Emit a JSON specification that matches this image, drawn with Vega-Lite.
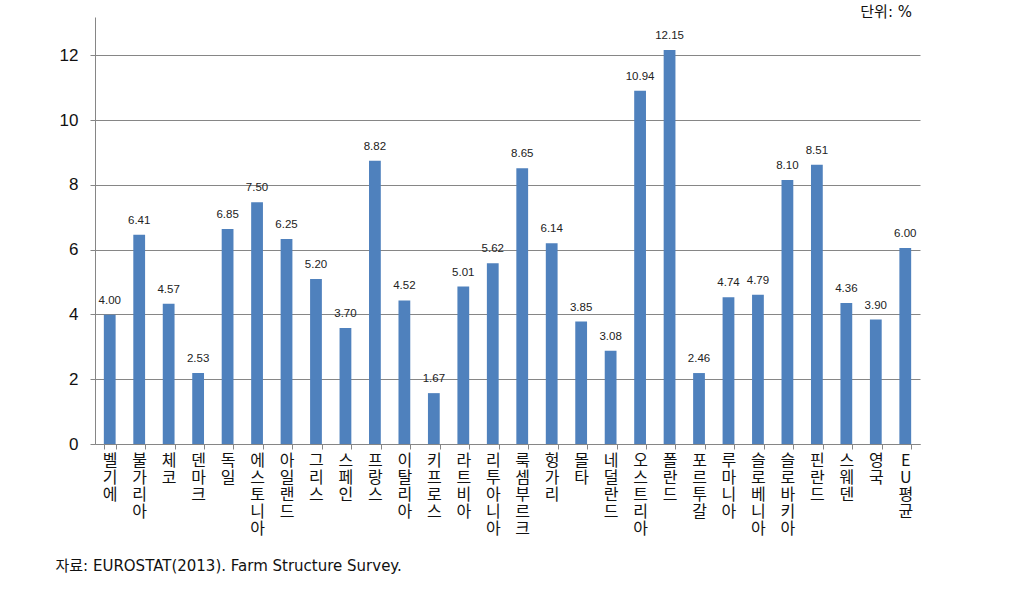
{
  "$schema": "https://vega.github.io/schema/vega-lite/v6.json",
  "width": 825,
  "height": 427,
  "autosize": {"type": "none"},
  "padding": {"left": 95, "top": 17, "right": 90, "bottom": 152},
  "background": "white",
  "title": {"text": "단위: %", "orient": "top", "anchor": "end", "frame": "group", "font": "DejaVu Sans, Noto Sans CJK KR", "fontSize": 15, "fontWeight": "normal", "color": "#111", "baseline": "middle", "offset": 0, "dy": 10, "dx": -8},
  "data": {"values": [
    {"country": "벨기에", "value": 3.99, "label": "4.00"},
    {"country": "불가리아", "value": 6.46, "label": "6.41"},
    {"country": "체코", "value": 4.33, "label": "4.57"},
    {"country": "덴마크", "value": 2.19, "label": "2.53"},
    {"country": "독일", "value": 6.64, "label": "6.85"},
    {"country": "에스토니아", "value": 7.46, "label": "7.50"},
    {"country": "아일랜드", "value": 6.33, "label": "6.25"},
    {"country": "그리스", "value": 5.09, "label": "5.20"},
    {"country": "스페인", "value": 3.58, "label": "3.70"},
    {"country": "프랑스", "value": 8.74, "label": "8.82"},
    {"country": "이탈리아", "value": 4.43, "label": "4.52"},
    {"country": "키프로스", "value": 1.57, "label": "1.67"},
    {"country": "라트비아", "value": 4.86, "label": "5.01"},
    {"country": "리투아니아", "value": 5.58, "label": "5.62"},
    {"country": "룩셈부르크", "value": 8.51, "label": "8.65"},
    {"country": "헝가리", "value": 6.2, "label": "6.14"},
    {"country": "몰타", "value": 3.78, "label": "3.85"},
    {"country": "네덜란드", "value": 2.88, "label": "3.08"},
    {"country": "오스트리아", "value": 10.9, "label": "10.94"},
    {"country": "폴란드", "value": 12.16, "label": "12.15"},
    {"country": "포르투갈", "value": 2.19, "label": "2.46"},
    {"country": "루마니아", "value": 4.53, "label": "4.74"},
    {"country": "슬로베니아", "value": 4.61, "label": "4.79"},
    {"country": "슬로바키아", "value": 8.15, "label": "8.10"},
    {"country": "핀란드", "value": 8.62, "label": "8.51"},
    {"country": "스웨덴", "value": 4.35, "label": "4.36"},
    {"country": "영국", "value": 3.84, "label": "3.90"},
    {"country": "EU평균", "value": 6.05, "label": "6.00"}
  ]},
  "encoding": {
    "x": {"field": "country", "type": "nominal", "sort": null,
      "scale": {"paddingInner": 0.6, "paddingOuter": 0.3},
      "axis": {"labelAngle": 0, "labelExpr": "split(datum.label, '')", "labelFont": "Noto Sans CJK KR", "labelFontSize": 16, "labelLineHeight": 17, "labelColor": "#111", "labelBaseline": "top", "labelPadding": 3, "labelLimit": 0, "labelOverlap": false,
        "tickBand": "extent", "ticks": true, "tickSize": 5, "tickColor": "#868686", "domainColor": "#868686",
        "title": "자료: EUROSTAT(2013). Farm Structure Survey.", "titleFont": "DejaVu Sans, Noto Sans CJK KR", "titleFontSize": 15, "titleFontWeight": "normal", "titleColor": "#111", "titleAnchor": "start", "titleAlign": "left", "titleBaseline": "middle", "titleX": -40, "titleY": 121}},
    "y": {"field": "value", "type": "quantitative",
      "scale": {"domain": [0, 13.18], "nice": false},
      "axis": {"values": [0, 2, 4, 6, 8, 10, 12], "title": null, "grid": true, "gridColor": "#868686", "gridWidth": 1, "domainColor": "#868686", "tickColor": "#868686", "tickSize": 5, "labelFont": "Liberation Sans", "labelFontSize": 17, "labelColor": "#111", "labelPadding": 12}}
  },
  "layer": [
    {"mark": {"type": "bar", "color": "#4F81BD"}},
    {"mark": {"type": "text", "baseline": "middle", "dy": -14, "font": "Liberation Sans", "fontSize": 11.5, "color": "#222"}, "encoding": {"text": {"field": "label"}}}
  ],
  "config": {"view": {"stroke": null}}
}
